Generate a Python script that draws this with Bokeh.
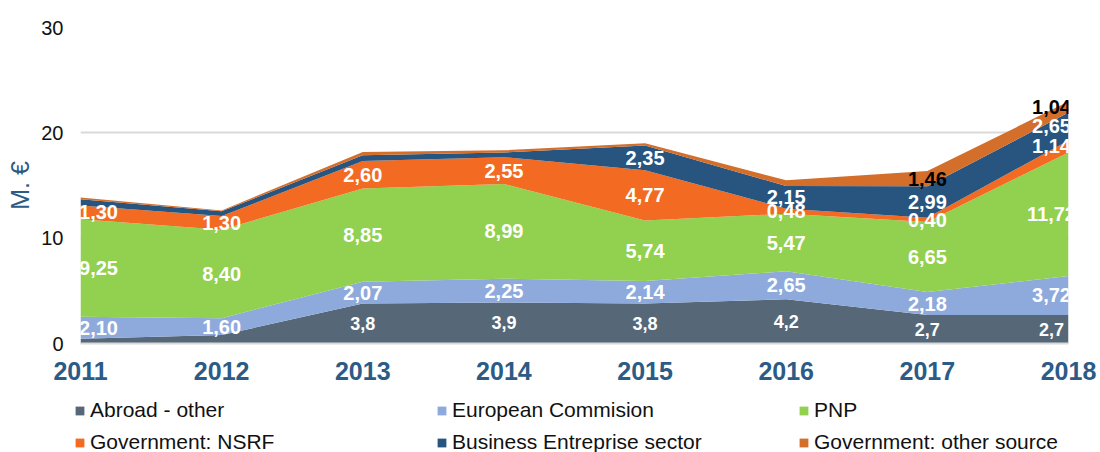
from bokeh.plotting import figure
from bokeh.models import Range1d, Legend, LegendItem, ColumnDataSource, FixedTicker
from bokeh.layouts import column
from bokeh.embed import file_html
from bokeh.resources import INLINE
from bokeh.core.properties import value

# ---------------- data ----------------
years = [2011, 2012, 2013, 2014, 2015, 2016, 2017, 2018]
series_names = ["Abroad - other", "European Commision", "PNP",
                "Government: NSRF", "Business Entreprise sector", "Government: other source"]
abroad_other = [0.45, 0.80, 3.8, 3.9, 3.8, 4.2, 2.7, 2.7]
european_commision = [2.10, 1.60, 2.07, 2.25, 2.14, 2.65, 2.18, 3.72]
pnp = [9.25, 8.40, 8.85, 8.99, 5.74, 5.47, 6.65, 11.72]
gov_nsrf = [1.30, 1.30, 2.60, 2.55, 4.77, 0.48, 0.40, 1.14]
business = [0.60, 0.45, 0.55, 0.45, 2.35, 2.15, 2.99, 2.65]
gov_other = [0.15, 0.08, 0.30, 0.20, 0.20, 0.55, 1.46, 1.04]

# which values carry a data label in the original
abroad_shown = [0, 0, 1, 1, 1, 1, 1, 1]
ec_shown = [1] * 8
pnp_shown = [1] * 8
nsrf_shown = [1] * 8
business_shown = [0, 0, 0, 0, 1, 1, 1, 1]
other_shown = [0, 0, 0, 0, 0, 0, 1, 1]

y_ticks = [0, 10, 20, 30]

colors = ["#566878", "#8eaadc", "#92d050", "#f36b22", "#27557f", "#d36e2b"]
year_color = "#2c5b86"
FONT = "Liberation Sans"

# ---------------- main figure ----------------
p = figure(width=1100, height=396, output_backend="svg", toolbar_location=None,
           x_range=Range1d(2011, 2018), y_range=Range1d(0, 30),
           min_border_left=80, min_border_right=32, min_border_top=27, min_border_bottom=53)
p.outline_line_color = None
p.background_fill_color = "white"
p.border_fill_color = "white"

keys = ["a", "ec", "pnp", "nsrf", "bus", "oth"]
series = [abroad_other, european_commision, pnp, gov_nsrf, business, gov_other]
src = ColumnDataSource(dict(x=years, **{k: v for k, v in zip(keys, series)}))
areas = p.varea_stack(stackers=keys, x="x", color=colors, source=src)

# x axis (years)
xa = p.xaxis[0]
xa.ticker = FixedTicker(ticks=years)
xa.axis_line_color = "#d9d9d9"
xa.axis_line_width = 2
xa.major_tick_line_color = None
xa.minor_tick_line_color = None
xa.major_tick_out = 0
xa.major_tick_in = 0
xa.major_label_standoff = 18
xa.major_label_text_font = FONT
xa.major_label_text_font_size = "25px"
xa.major_label_text_font_style = "bold"
xa.major_label_text_color = year_color

p.xgrid.visible = False
p.ygrid.grid_line_color = "#d9d9d9"
p.ygrid.grid_line_width = 2
p.ygrid.ticker = FixedTicker(ticks=y_ticks)

ya = p.yaxis[0]
ya.ticker = FixedTicker(ticks=y_ticks)
ya.axis_line_color = None
ya.major_tick_line_color = None
ya.minor_tick_line_color = None
ya.major_tick_out = 0
ya.major_tick_in = 0
ya.major_label_standoff = 17
ya.major_label_text_font = FONT
ya.major_label_text_font_size = "20px"
ya.major_label_text_color = "#111111"
ya.axis_label = "M. €"
ya.axis_label_text_font = FONT
ya.axis_label_text_font_style = "normal"
ya.axis_label_text_font_size = "25px"
ya.axis_label_text_color = year_color
ya.axis_label_standoff = 4

# ---------------- data labels ----------------
def fmt(v, d):
    return f"{v:.{d}f}".replace(".", ",")

shown = [abroad_shown, ec_shown, pnp_shown, nsrf_shown, business_shown, other_shown]
decimals = [1, 2, 2, 2, 2, 2]
lx, ly, lt, lc, ls, lo = [], [], [], [], [], []
for i, yr in enumerate(years):
    base = 0.0
    # labels at the two ends are nudged inwards, as in the original
    nudge = 18 if i == 0 else (-17 if i == len(years) - 1 else 0)
    for s in range(len(series)):
        v = series[s][i]
        if shown[s][i]:
            lx.append(yr)
            ly.append(base + v / 2.0)
            lt.append(fmt(v, decimals[s]))
            lc.append("black" if s == 5 else "white")
            ls.append("18px" if s == 0 else "20px")
            lo.append(nudge)
        base += v
lab_src = ColumnDataSource(dict(x=lx, y=ly, t=lt, c=lc, s=ls, o=lo))
p.text(x="x", y="y", text="t", source=lab_src, text_color="c", text_font_size="s",
       x_offset="o", text_font=value(FONT), text_font_style="bold", text_align="center",
       text_baseline="middle")

# ---------------- legend (separate strip below the chart) ----------------
lg = figure(width=1100, height=56, output_backend="svg", toolbar_location=None,
            x_range=Range1d(0, 1), y_range=Range1d(0, 1),
            min_border_left=0, min_border_right=0, min_border_top=0, min_border_bottom=0)
lg.frame_align = False
lg.outline_line_color = None
lg.axis.visible = False
lg.grid.visible = False
lg.background_fill_color = "white"
lg.border_fill_color = "white"
# same series, outside this strip's visible range: only their legend swatches show
swatches = lg.varea_stack(stackers=keys, x="x", color=colors, source=src)
items = [LegendItem(label=n, renderers=[r]) for n, r in zip(series_names, swatches)]
legend = Legend(items=items, orientation="horizontal", ncols=3,
                location=(74, -2), glyph_width=11, glyph_height=11,
                label_standoff=5, label_width=338, spacing=8, padding=0, margin=0,
                label_text_font=FONT, label_text_font_size="21px",
                label_text_color="#111111", border_line_color=None,
                background_fill_alpha=0)
lg.add_layout(legend, "center")

layout = column(p, lg, spacing=0)
open("out.html", "w").write(file_html(layout, INLINE))
